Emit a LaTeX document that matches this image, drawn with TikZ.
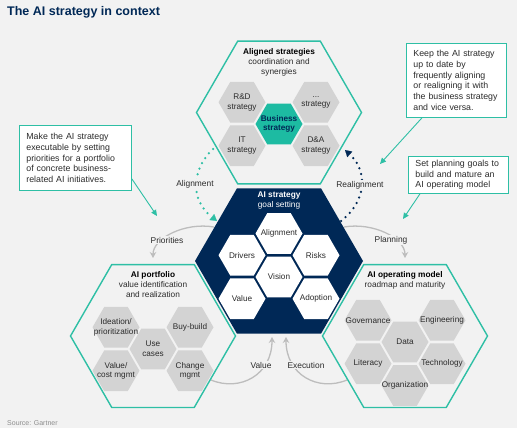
\documentclass[tikz,border=0pt]{standalone}
\usepackage{fontspec}
\setmainfont{Liberation Sans}
\usetikzlibrary{shapes.geometric,arrows.meta,calc}
\definecolor{bg}{HTML}{F2F2F2}
\definecolor{navy}{HTML}{002856}
\definecolor{gteal}{HTML}{2EBFA5}
\definecolor{bizteal}{HTML}{1DBBA2}
\definecolor{hexgray}{HTML}{D3D3D3}
\definecolor{arcgray}{HTML}{BDBDBD}
\definecolor{txt}{HTML}{2B2B2B}
\definecolor{srcgray}{HTML}{8C8C8C}
\begin{document}
\begin{tikzpicture}[x=1pt,y=-1pt,
  hexbase/.style={regular polygon, regular polygon sides=6, inner sep=0pt, outer sep=0pt},
  bighex/.style={hexbase, draw=gteal, line width=1.4pt, minimum size=165pt},
  darkhex/.style={hexbase, fill=navy, minimum size=168pt},
  ghex/.style={hexbase, fill=hexgray, minimum size=47pt},
  whex/.style={hexbase, fill=white, minimum size=47pt},
  bhex/.style={hexbase, fill=bizteal, minimum size=47pt},
  lbl/.style={font=\fontsize{8.2}{9.6}\selectfont, text=txt, align=center, inner sep=0pt},
  ttl/.style={font=\fontsize{8.3}{10}\selectfont, text=txt, align=center, inner sep=0pt},
  alabel/.style={font=\fontsize{8.4}{10}\selectfont, text=txt, fill=bg, inner sep=1.2pt},
  garc/.style={draw=arcgray, line width=1.3pt, -{Stealth[length=6pt,width=6.5pt]}},
  tdots/.style={draw=gteal, line width=2.5pt, line cap=round, dash pattern=on 0pt off 6pt, -{Triangle[length=6.5pt,width=7.5pt,line width=0.1pt]}},
  ndots/.style={draw=navy, line width=2.5pt, line cap=round, dash pattern=on 0pt off 6pt, -{Triangle[length=6.5pt,width=7.5pt,line width=0.1pt]}},
  callout/.style={draw=gteal, fill=white, line width=0.8pt, font=\fontsize{8.8}{10.7}\selectfont, text=txt, align=left, inner xsep=7pt, inner ysep=0pt, anchor=north west},
  carrow/.style={draw=gteal, line width=0.9pt, -{Triangle[length=6pt,width=5.5pt]}}
]
\fill[bg] (0,0) rectangle (517,428);
\useasboundingbox (0,0) rectangle (517,428);

% title and source
\node[anchor=base west, inner sep=0pt, font=\fontsize{12.5}{14}\selectfont\bfseries, text=navy] (title) at (7,15.5) {The AI strategy in context};
\node[anchor=base west, inner sep=0pt, font=\fontsize{7}{8}\selectfont, text=srcgray] (src) at (7,425) {Source: Gartner};

% gray arcs (drawn below hexes)
\coordinate (prS) at (214,227);
\coordinate (prE) at (153,258);
\coordinate (plS) at (344,227);
\coordinate (plE) at (405,258);
\coordinate (vaS) at (211,380);
\coordinate (vaE) at (272,337);
\coordinate (exS) at (347,380);
\coordinate (exE) at (286,337);
\draw[garc] (prS) .. controls (185,222) and (153,238) .. (prE);
\draw[garc] (plS) .. controls (373,222) and (405,238) .. (plE);
\draw[garc] (vaS) .. controls (240,392) and (272,375) .. (vaE);
\draw[garc] (exS) .. controls (318,392) and (286,375) .. (exE);
\node[alabel] (lpr) at (167,240) {Priorities};
\node[alabel] (lpl) at (391,240) {Planning};
\node[alabel] (lva) at (261,365) {Value};
\node[alabel] (lex) at (306,365) {Execution};

% big hexagons
\node[bighex] (top) at (279,112.5) {};
\node[bighex] (port) at (153,336) {};
\node[bighex] (opm) at (405,336) {};
\node[darkhex] (core) at (279,261) {};

% top cluster
\node[ttl] (toptxt) at (279,62) {\textbf{\color{black}Aligned strategies}\\coordination and\\synergies};
\node[ghex] (rd) at (242,102.25) {};
\node[ghex] (os) at (316,102.25) {};
\node[bhex] (bs) at (279,124) {};
\node[ghex] (it) at (242,145.75) {};
\node[ghex] (da) at (316,145.75) {};
\node[lbl] (rdt) at (rd) {R\&D\\strategy};
\node[lbl] (ost) at (os) {...\\strategy};
\node[lbl, text=navy, font=\fontsize{8.2}{9.6}\selectfont\bfseries] (bst) at (bs) {Business\\strategy};
\node[lbl] (itt) at (it) {IT\\strategy};
\node[lbl] (dat) at (da) {D\&A\\strategy};

% core cluster
\node[ttl, text=white] (coretxt) at (279,201) {\textbf{AI strategy}\\goal setting};
\node[whex] (al) at (279,233.5) {};
\node[whex] (dr) at (242,255.25) {};
\node[whex] (ri) at (316,255.25) {};
\node[whex] (vi) at (279,277) {};
\node[whex] (va) at (242,298.75) {};
\node[whex] (ad) at (316,298.75) {};
\node[lbl] (alt) at (al) {Alignment};
\node[lbl] (drt) at (dr) {Drivers};
\node[lbl] (rit) at (ri) {Risks};
\node[lbl] (vit) at (vi) {Vision};
\node[lbl] (vat) at (va) {Value};
\node[lbl] (adt) at (ad) {Adoption};

% portfolio cluster
\node[ttl] (porttxt) at (153,285) {\textbf{\color{black}AI portfolio}\\value identification\\and realization};
\node[ghex] (ip) at (116,327.25) {};
\node[ghex] (bb) at (190,327.25) {};
\node[ghex] (uc) at (153,349) {};
\node[ghex] (vc) at (116,370.75) {};
\node[ghex] (cm) at (190,370.75) {};
\node[lbl] (ipt) at (ip) {Ideation/\\prioritization};
\node[lbl] (bbt) at (bb) {Buy-build};
\node[lbl] (uct) at (uc) {Use\\cases};
\node[lbl] (vct) at (vc) {Value/\\cost mgmt};
\node[lbl] (cmt) at (cm) {Change\\mgmt};

% operating model cluster
\node[ttl] (opmtxt) at (405,280) {\textbf{\color{black}AI operating model}\\roadmap and maturity};
\node[ghex] (gv) at (368,320.25) {};
\node[ghex] (en) at (442,320.25) {};
\node[ghex] (dt) at (405,342) {};
\node[ghex] (li) at (368,363.75) {};
\node[ghex] (te) at (442,363.75) {};
\node[ghex] (og) at (405,385.5) {};
\node[lbl] (gvt) at (gv) {Governance};
\node[lbl] (ent) at (en) {Engineering};
\node[lbl] (dtt) at (dt) {Data};
\node[lbl] (lit) at (li) {Literacy};
\node[lbl] (tet) at (te) {Technology};
\node[lbl] (ogt) at (og) {Organization};

% dotted alignment arrows
\coordinate (alS) at (213,149);
\coordinate (alE) at (217,221);
\coordinate (reS) at (341,221);
\coordinate (reE) at (345,150);
\draw[tdots] (alS) .. controls (191,170) and (190,200) .. (alE);
\draw[ndots] (reS) .. controls (368,200) and (367,170) .. (reE);
\node[alabel] (lal) at (195,184) {Alignment};
\node[alabel] (lre) at (360,185) {Realignment};

% callouts
\node[callout, text width=98pt, minimum height=65pt] (cl) at (19,125)
  {Make the AI strategy\\executable by setting\\priorities for a portfolio\\of concrete business-\\related AI initiatives.};
\node[callout, text width=86pt, minimum height=74pt] (cr) at (406,43)
  {Keep the AI strategy\\up to date by\\frequently aligning\\or realigning it with\\the business strategy\\and vice versa.};
\node[callout, text width=86pt, minimum height=37pt] (cp) at (408,156)
  {Set planning goals to\\build and mature an\\AI operating model};
\coordinate (clE) at (157,216);
\coordinate (crE) at (380,164);
\coordinate (cpE) at (403,219);
\draw[carrow] ($(cl.south east)+(0,-12)$) -- (clE);
\draw[carrow] ($(cr.south west)+(16,0)$) -- (crE);
\draw[carrow] ($(cp.south west)+(12,0)$) -- (cpE);
\end{tikzpicture}
\end{document}
